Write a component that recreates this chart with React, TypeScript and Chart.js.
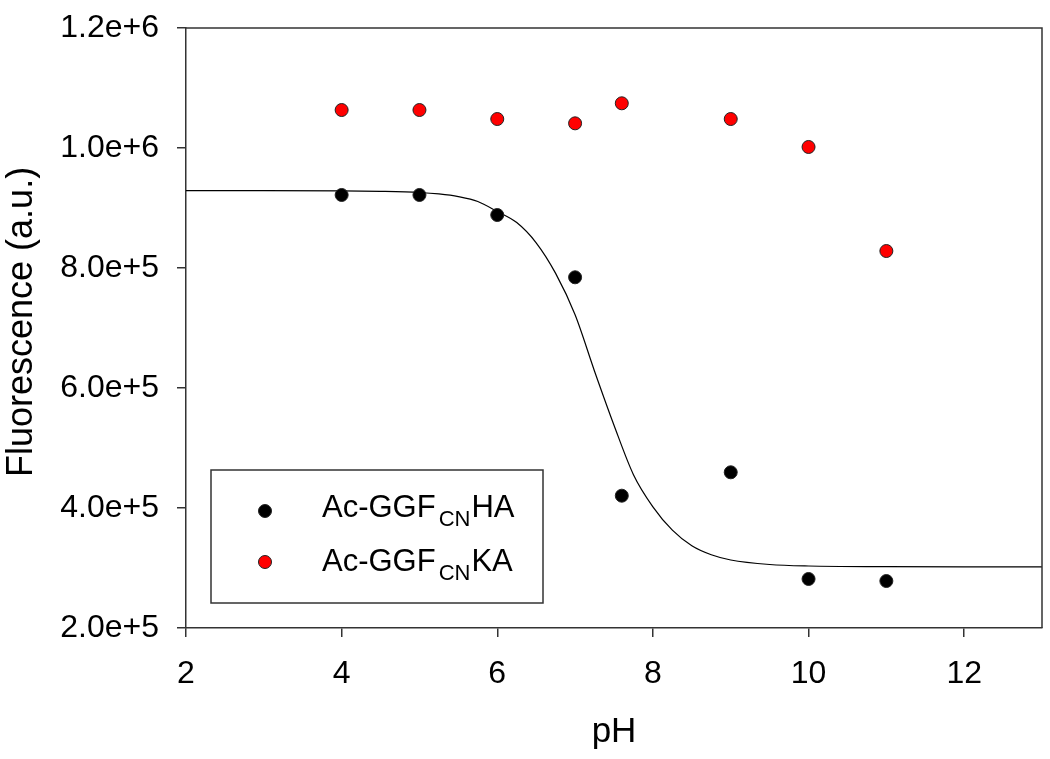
import React, { useEffect, useRef } from "react";
import { Chart, registerables } from "chart.js";

Chart.register(...registerables);

// Measured data
const phValues = [4, 5, 6, 7, 7.6, 9, 10, 11];
const haValues = [921700, 921700, 888300, 784500, 420500, 459500, 281700, 278300];
const kaValues = [1063300, 1063300, 1048300, 1041100, 1074500, 1048300, 1001700, 828300];

// Fitted curve for Ac-GGF(CN)HA
const fitPh = [2, 3, 4, 4.5, 5, 5.25, 5.5, 5.75, 6, 6.25, 6.5, 6.75, 7, 7.25, 7.5, 7.75, 8, 8.25, 8.5, 8.75, 9, 9.5, 10, 11, 12, 13];
const fitValues = [929000, 929000, 928700, 927800, 925800, 923400, 919000, 910800, 894000, 875700, 842000, 791000, 722000, 628000, 538000, 455600, 402000, 363000, 337000, 322000, 313300, 305800, 303300, 302300, 302000, 302000];

const legendNames = ["Ac-GGF", "Ac-GGF"];
const legendSubs = ["CN", "CN"];
const legendTails = ["HA", "KA"];
const legendColors = ["#000000", "#ff0000"];

const xTitle = "pH";
const yTitle = "Fluorescence (a.u.)";

const FONT = "'Liberation Sans', Arial, sans-serif";

const framePlugin = {
  id: "frame",
  afterDraw(chart: any) {
    const { ctx, chartArea } = chart;
    ctx.save();
    ctx.strokeStyle = "#333333";
    ctx.lineWidth = 1.5;
    ctx.beginPath();
    ctx.moveTo(chartArea.left, chartArea.top);
    ctx.lineTo(chartArea.right, chartArea.top);
    ctx.lineTo(chartArea.right, chartArea.bottom);
    ctx.stroke();
    ctx.restore();
  },
};

const yTitlePlugin = {
  id: "yTitle",
  afterDraw(chart: any) {
    const { ctx } = chart;
    ctx.save();
    ctx.translate(32, 477);
    ctx.rotate(-Math.PI / 2);
    ctx.font = `36px ${FONT}`;
    ctx.fillStyle = "#000000";
    ctx.textAlign = "left";
    ctx.textBaseline = "alphabetic";
    ctx.fillText(yTitle, 0, 0);
    ctx.restore();
  },
};

const legendPlugin = {
  id: "customLegend",
  afterDraw(chart: any) {
    const { ctx } = chart;
    ctx.save();
    const bx = 211, by = 470, bw = 332, bh = 133;
    ctx.fillStyle = "#ffffff";
    ctx.fillRect(bx, by, bw, bh);
    ctx.strokeStyle = "#333333";
    ctx.lineWidth = 1.5;
    ctx.strokeRect(bx, by, bw, bh);
    const baselines = [517, 571];
    const markerY = [511, 562];
    for (let i = 0; i < legendNames.length; i++) {
      ctx.beginPath();
      ctx.arc(265, markerY[i], 6.5, 0, Math.PI * 2);
      ctx.fillStyle = legendColors[i];
      ctx.fill();
      ctx.lineWidth = 1;
      ctx.strokeStyle = "#222222";
      ctx.stroke();
      ctx.fillStyle = "#000000";
      ctx.textBaseline = "alphabetic";
      ctx.textAlign = "left";
      let x = 322;
      ctx.font = `31px ${FONT}`;
      ctx.fillText(legendNames[i], x, baselines[i]);
      x += ctx.measureText(legendNames[i]).width + 3;
      ctx.font = `22px ${FONT}`;
      ctx.fillText(legendSubs[i], x, baselines[i] + 9);
      x += ctx.measureText(legendSubs[i]).width + 1;
      ctx.font = `31px ${FONT}`;
      ctx.fillText(legendTails[i], x, baselines[i]);
    }
    ctx.restore();
  },
};

export default function App() {
  const ref = useRef<HTMLCanvasElement>(null);

  useEffect(() => {
    if (!ref.current) return;
    const fitData = fitPh.map((x, i) => ({ x, y: fitValues[i] }));
    const haData = phValues.map((x, i) => ({ x, y: haValues[i] }));
    const kaData = phValues.map((x, i) => ({ x, y: kaValues[i] }));

    const chart = new Chart(ref.current, {
      type: "scatter",
      data: {
        datasets: [
          {
            type: "line",
            label: "fit",
            data: fitData,
            borderColor: "#000000",
            borderWidth: 1.2,
            pointRadius: 0,
            fill: false,
            showLine: true,
            cubicInterpolationMode: "monotone",
            order: 3,
          } as any,
          {
            label: "Ac-GGFCNHA",
            data: haData,
            backgroundColor: "#000000",
            borderColor: "#222222",
            borderWidth: 1,
            pointRadius: 6.5,
            order: 2,
          },
          {
            label: "Ac-GGFCNKA",
            data: kaData,
            backgroundColor: "#ff0000",
            borderColor: "#222222",
            borderWidth: 1,
            pointRadius: 6.5,
            order: 1,
          },
        ],
      },
      options: {
        animation: false,
        responsive: false,
        maintainAspectRatio: false,
        layout: { padding: { top: 28, right: 8, left: 0, bottom: 0 } },
        plugins: {
          legend: { display: false },
          tooltip: { enabled: false },
        },
        scales: {
          x: {
            type: "linear",
            min: 2,
            max: 13,
            afterFit: (s: any) => {
              s.height = 131;
              s.paddingLeft = 0;
              s.paddingRight = 0;
            },
            ticks: {
              stepSize: 2,
              includeBounds: false,
              color: "#000000",
              padding: 18,
              font: { family: FONT, size: 32 },
            },
            grid: {
              drawOnChartArea: false,
              drawTicks: true,
              tickLength: 9,
              color: "#333333",
              lineWidth: 1.5,
            },
            border: { display: true, color: "#333333", width: 1.5 },
            title: {
              display: true,
              text: xTitle,
              color: "#000000",
              font: { family: FONT, size: 35, lineHeight: 1 },
              padding: { top: 0, bottom: 9 },
            },
          },
          y: {
            type: "linear",
            min: 200000,
            max: 1200000,
            afterFit: (s: any) => {
              s.width = 186;
              s.paddingTop = 0;
              s.paddingBottom = 0;
            },
            ticks: {
              stepSize: 200000,
              color: "#000000",
              padding: 18,
              font: { family: FONT, size: 32 },
              callback: (v: any) => Number(v).toExponential(1),
            },
            grid: {
              drawOnChartArea: false,
              drawTicks: true,
              tickLength: 9,
              color: "#333333",
              lineWidth: 1.5,
            },
            border: { display: true, color: "#333333", width: 1.5 },
            title: { display: false },
          },
        },
      },
      plugins: [framePlugin, legendPlugin, yTitlePlugin],
    });
    return () => chart.destroy();
  }, []);

  return (
    <div style={{ position: "fixed", left: 0, top: 0, width: 1050, height: 759, background: "#ffffff" }}>
      <canvas ref={ref} width={1050} height={759} style={{ width: 1050, height: 759, display: "block" }} />
    </div>
  );
}
